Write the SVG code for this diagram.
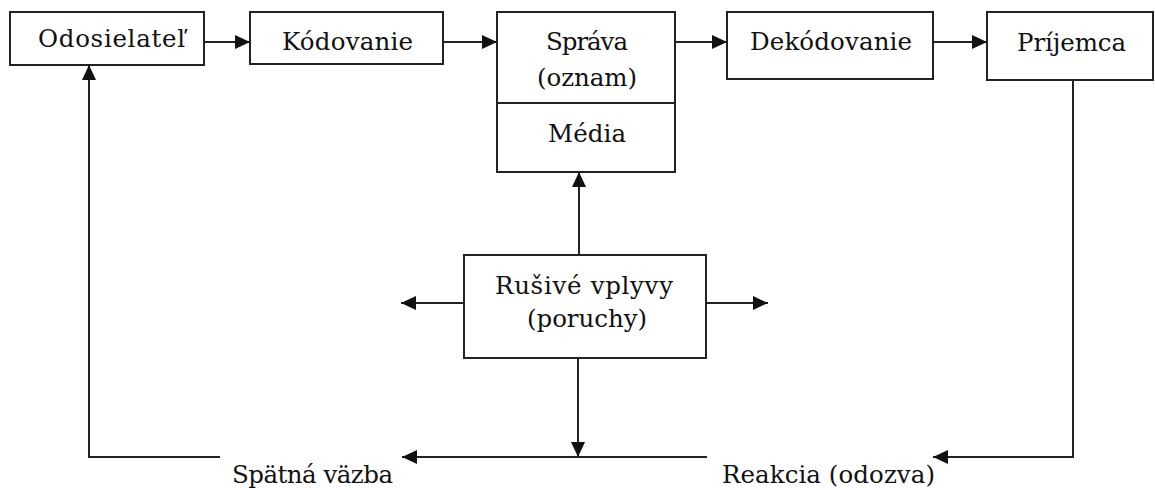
<svg xmlns="http://www.w3.org/2000/svg" width="1155" height="490" viewBox="0 0 1155 490">
<style>
.box{fill:#fff;stroke:#222;stroke-width:2}
.ln{fill:none;stroke:#222;stroke-width:2}
text{font-family:"DejaVu Serif","Liberation Serif",serif;font-size:24.5px;fill:#111}
</style>
<defs>
<marker id="ah" markerUnits="userSpaceOnUse" markerWidth="16" markerHeight="14" refX="15" refY="7" orient="auto">
<path d="M0,0 L15,7 L0,14 Z" fill="#111"/>
</marker>
</defs>
<rect width="1155" height="490" fill="#fff"/>
<g id="odosielatel">
<rect class="box" x="10" y="12" width="194" height="53"/>
<text x="38" y="47" textLength="147">Odosielateľ</text>
</g>
<g id="kodovanie">
<rect class="box" x="250" y="12" width="193" height="52"/>
<text x="282" y="50" textLength="131">Kódovanie</text>
</g>
<g id="sprava">
<rect class="box" x="497" y="12" width="178" height="160"/>
<line class="ln" x1="497" y1="103" x2="675" y2="103"/>
<text x="546" y="50" textLength="82">Správa</text>
<text x="537" y="86" textLength="100">(oznam)</text>
<text x="548" y="142" textLength="78">Média</text>
</g>
<g id="dekodovanie">
<rect class="box" x="727" y="12" width="206" height="67"/>
<text x="750" y="50" textLength="162">Dekódovanie</text>
</g>
<g id="prijemca">
<rect class="box" x="987" y="12" width="166" height="68"/>
<text x="1017" y="51" textLength="109">Príjemca</text>
</g>
<g id="rusive">
<rect class="box" x="464" y="255" width="242" height="103"/>
<text x="495" y="294" textLength="178">Rušivé vplyvy</text>
<text x="527" y="327" textLength="120">(poruchy)</text>
</g>
<g id="labels">
<text x="232" y="483" textLength="161">Spätná väzba</text>
<text x="722" y="483" textLength="213">Reakcia (odozva)</text>
</g>
<g id="connectors">
<line class="ln" x1="204" y1="42" x2="250" y2="42" marker-end="url(#ah)"/>
<line class="ln" x1="443" y1="42" x2="497" y2="42" marker-end="url(#ah)"/>
<line class="ln" x1="675" y1="42" x2="727" y2="42" marker-end="url(#ah)"/>
<line class="ln" x1="933" y1="42" x2="987" y2="42" marker-end="url(#ah)"/>
<line class="ln" x1="579" y1="255" x2="579" y2="172" marker-end="url(#ah)"/>
<line class="ln" x1="464" y1="303" x2="401" y2="303" marker-end="url(#ah)"/>
<line class="ln" x1="706" y1="303" x2="768" y2="303" marker-end="url(#ah)"/>
<line class="ln" x1="578" y1="358" x2="578" y2="457" marker-end="url(#ah)"/>
<line class="ln" x1="707" y1="457" x2="402" y2="457" marker-end="url(#ah)"/>
<polyline class="ln" points="220,457 89,457 89,65" marker-end="url(#ah)"/>
<polyline class="ln" points="1073,80 1073,457 933,457" marker-end="url(#ah)"/>
</g>
</svg>
